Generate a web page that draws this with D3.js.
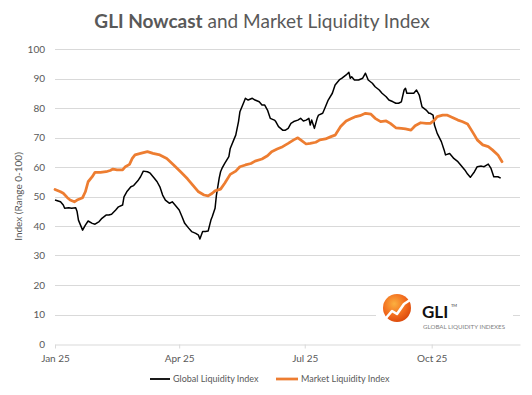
<!DOCTYPE html>
<html>
<head>
<meta charset="utf-8">
<script src="https://cdn.jsdelivr.net/npm/d3@7"></script>
<style>
  html, body { margin: 0; padding: 0; background: #fff; }
  svg { display: block; font-family: Lato, "Open Sans", sans-serif; }
</style>
</head>
<body>
<svg id="chart" width="532" height="395"></svg>
<script>
// ---- Data ----
const gliDates = ["2025-01-01","2025-01-05","2025-01-07","2025-01-08","2025-01-11","2025-01-13","2025-01-16","2025-01-17","2025-01-18","2025-01-21","2025-01-23","2025-01-25","2025-01-28","2025-01-30","2025-02-02","2025-02-04","2025-02-07","2025-02-09","2025-02-11","2025-02-14","2025-02-16","2025-02-19","2025-02-20","2025-02-22","2025-02-25","2025-02-27","2025-03-02","2025-03-04","2025-03-06","2025-03-09","2025-03-11","2025-03-14","2025-03-16","2025-03-18","2025-03-20","2025-03-22","2025-03-25","2025-03-27","2025-03-29","2025-04-01","2025-04-03","2025-04-05","2025-04-08","2025-04-10","2025-04-13","2025-04-15","2025-04-16","2025-04-18","2025-04-20","2025-04-22","2025-04-24","2025-04-25","2025-04-27","2025-04-28","2025-04-30","2025-05-01","2025-05-02","2025-05-04","2025-05-07","2025-05-08","2025-05-11","2025-05-12","2025-05-14","2025-05-15","2025-05-18","2025-05-19","2025-05-21","2025-05-24","2025-05-26","2025-05-29","2025-05-31","2025-06-02","2025-06-04","2025-06-06","2025-06-09","2025-06-10","2025-06-12","2025-06-15","2025-06-17","2025-06-19","2025-06-21","2025-06-23","2025-06-26","2025-06-28","2025-06-30","2025-07-02","2025-07-04","2025-07-05","2025-07-06","2025-07-08","2025-07-10","2025-07-11","2025-07-14","2025-07-16","2025-07-18","2025-07-21","2025-07-23","2025-07-26","2025-07-28","2025-07-31","2025-08-02","2025-08-03","2025-08-04","2025-08-06","2025-08-09","2025-08-12","2025-08-14","2025-08-16","2025-08-19","2025-08-21","2025-08-24","2025-08-26","2025-08-29","2025-08-31","2025-09-03","2025-09-05","2025-09-07","2025-09-09","2025-09-11","2025-09-12","2025-09-13","2025-09-16","2025-09-18","2025-09-20","2025-09-22","2025-09-24","2025-09-27","2025-09-29","2025-09-30","2025-10-02","2025-10-03","2025-10-05","2025-10-08","2025-10-10","2025-10-11","2025-10-14","2025-10-16","2025-10-17","2025-10-20","2025-10-22","2025-10-25","2025-10-27","2025-10-29","2025-11-01","2025-11-03","2025-11-06","2025-11-08","2025-11-11","2025-11-13","2025-11-15","2025-11-18","2025-11-20"];
const gliValues = [48.8,48.2,47.1,46.0,46.2,46.0,46.2,44.9,42.0,38.6,40.3,41.7,40.9,40.6,41.5,42.6,43.7,43.7,44.0,45.4,46.5,47.1,49.9,51.6,53.3,53.7,55.3,56.7,58.6,58.4,57.9,56.2,55.0,53.3,50.5,48.8,47.7,48.2,47.1,45.4,43.2,40.9,39.2,38.1,37.5,36.9,35.6,38.1,38.1,38.3,42.0,43.2,46.0,50.5,56.2,58.4,59.5,61.2,63.5,66.3,69.7,70.8,75.4,78.7,82.1,83.3,82.7,83.3,82.7,82.1,81.0,81.0,79.3,76.5,75.9,75.4,73.7,72.5,72.5,73.1,74.8,75.4,75.9,76.5,75.6,75.9,76.5,74.2,75.9,73.1,76.5,77.6,78.2,80.4,82.7,85.0,87.8,89.5,90.1,91.2,92.1,90.1,90.6,89.5,89.5,90.1,91.8,89.5,88.4,87.2,86.1,85.0,83.8,82.7,82.1,81.6,81.6,82.1,86.1,86.7,85.0,85.0,85.0,86.1,84.4,80.4,79.3,78.2,78.2,77.6,74.2,71.4,68.6,65.8,64.1,64.6,63.5,62.9,61.8,60.7,59.0,57.6,56.5,58.4,60.1,60.3,60.1,61.0,59.5,56.7,56.7,56.2];

const mliDates = ["2025-01-01","2025-01-05","2025-01-07","2025-01-10","2025-01-12","2025-01-15","2025-01-17","2025-01-21","2025-01-23","2025-01-25","2025-01-28","2025-01-30","2025-02-03","2025-02-07","2025-02-10","2025-02-12","2025-02-15","2025-02-19","2025-02-21","2025-02-24","2025-02-26","2025-02-28","2025-03-04","2025-03-09","2025-03-13","2025-03-18","2025-03-23","2025-03-28","2025-04-02","2025-04-07","2025-04-11","2025-04-15","2025-04-19","2025-04-22","2025-04-25","2025-04-27","2025-05-01","2025-05-04","2025-05-08","2025-05-12","2025-05-15","2025-05-19","2025-05-23","2025-05-26","2025-05-31","2025-06-04","2025-06-07","2025-06-11","2025-06-15","2025-06-19","2025-06-23","2025-06-26","2025-06-28","2025-07-02","2025-07-05","2025-07-09","2025-07-12","2025-07-16","2025-07-20","2025-07-23","2025-07-27","2025-07-31","2025-08-03","2025-08-07","2025-08-10","2025-08-14","2025-08-18","2025-08-21","2025-08-25","2025-08-29","2025-09-01","2025-09-05","2025-09-09","2025-09-12","2025-09-16","2025-09-19","2025-09-23","2025-09-27","2025-09-30","2025-10-03","2025-10-05","2025-10-09","2025-10-12","2025-10-16","2025-10-20","2025-10-23","2025-10-27","2025-10-29","2025-11-01","2025-11-03","2025-11-07","2025-11-11","2025-11-14","2025-11-18","2025-11-21"];
const mliValues = [52.4,51.6,51.1,49.6,48.8,48.2,48.8,49.6,51.6,55.0,56.7,58.2,58.2,58.4,58.8,59.3,59.0,59.0,60.1,60.9,62.9,64.1,64.6,65.2,64.6,64.1,62.9,60.7,58.4,56.0,53.8,51.6,50.5,50.2,51.1,51.9,52.5,54.5,57.5,58.6,60.1,60.7,61.2,62.0,62.7,63.8,65.2,66.1,66.9,68.0,69.2,69.9,69.2,67.8,68.0,68.4,69.2,69.5,70.3,70.8,73.7,75.6,76.3,77.1,77.4,78.2,77.9,76.5,75.4,75.6,74.8,73.3,73.1,72.9,72.5,74.0,75.0,74.8,74.8,75.9,77.1,77.6,77.6,76.8,75.9,75.4,74.6,73.1,70.8,69.2,67.5,66.9,65.8,64.1,61.8];

const yTicks = [0,10,20,30,40,50,60,70,80,90,100];
const xTickDates = ["2025-01-01","2025-04-01","2025-07-01","2025-10-01"];
const xDomain = ["2025-01-01","2025-12-04"];
const seriesNames = ["Global Liquidity Index","Market Liquidity Index"];
const seriesColors = ["#000000","#ED7D31"];

// ---- Drawing ----
const parse = d3.utcParse("%Y-%m-%d");
const svg = d3.select("#chart");
const textColor = "#595959";
const gridColor = "#d9d9d9";

const x = d3.scaleUtc().domain(xDomain.map(parse)).range([55, 520]);
const y = d3.scaleLinear().domain([0, 100]).range([344, 49]);

// Title
const title = svg.append("text")
  .attr("x", 262).attr("y", 28)
  .attr("text-anchor", "middle")
  .attr("fill", textColor)
  .style("font-size", "19px");
title.append("tspan").style("font-weight", "700").text("GLI Nowcast");
title.append("tspan").text(" and Market Liquidity Index");

// Gridlines
svg.append("g").selectAll("line").data(yTicks.filter(d => d > 0)).join("line")
  .attr("x1", x.range()[0]).attr("x2", x.range()[1])
  .attr("y1", d => Math.round(y(d)) + 0.5).attr("y2", d => Math.round(y(d)) + 0.5)
  .attr("stroke", gridColor).attr("stroke-width", 1);

// Y axis labels
const yAxis = d3.axisLeft(y).tickValues(yTicks).tickSize(0).tickPadding(10);
const gy = svg.append("g").attr("transform", `translate(${x.range()[0]},0)`).call(yAxis);
gy.select(".domain").remove();
gy.selectAll("text").attr("fill", textColor).style("font-size", "10px").style("font-family", "Lato, sans-serif");

// Y axis title
svg.append("text")
  .attr("transform", `translate(22,${y(50)}) rotate(-90)`)
  .attr("text-anchor", "middle")
  .attr("fill", textColor)
  .style("font-size", "10px")
  .text("Index (Range 0-100)");

// X axis
const xAxis = d3.axisBottom(x).tickValues(xTickDates.map(parse))
  .tickFormat(d3.utcFormat("%b %y")).tickSize(4).tickSizeOuter(0).tickPadding(6);
const gx = svg.append("g").attr("transform", `translate(0,${Math.round(y(0)) + 0.5})`).call(xAxis);
gx.select(".domain").attr("stroke", gridColor);
gx.selectAll(".tick line").attr("stroke", gridColor);
gx.selectAll("text").attr("fill", textColor).style("font-size", "10px").style("font-family", "Lato, sans-serif");

// Logo (white box behind)
const logo = svg.append("g");
logo.append("rect").attr("x", 376).attr("y", 290).attr("width", 137).attr("height", 48).attr("fill", "#fff");
const defs = svg.append("defs");
const grad = defs.append("radialGradient").attr("id", "lg").attr("cx", "40%").attr("cy", "35%").attr("r", "70%");
grad.append("stop").attr("offset", "0%").attr("stop-color", "#FBB040");
grad.append("stop").attr("offset", "60%").attr("stop-color", "#F26B1D");
grad.append("stop").attr("offset", "100%").attr("stop-color", "#D9470B");
logo.append("circle").attr("cx", 397).attr("cy", 308).attr("r", 14).attr("fill", "url(#lg)");
logo.append("path")
  .attr("d", "M386,318 L392,311 L397,314 L404,304 L410,300")
  .attr("fill", "none").attr("stroke", "#fff").attr("stroke-width", 2.6)
  .attr("stroke-linejoin", "round").attr("stroke-linecap", "round");
logo.append("text").attr("x", 422).attr("y", 318)
  .attr("fill", "#111").style("font-size", "17px").style("font-weight", "700")
  .style("font-family", "Lato, sans-serif").text("GLI");
logo.append("text").attr("x", 451).attr("y", 307)
  .attr("fill", "#333").style("font-size", "4px").text("TM");
logo.append("text").attr("x", 423).attr("y", 329)
  .attr("fill", "#7f7f7f").style("font-size", "5.6px")
  .attr("textLength", 82).attr("lengthAdjust", "spacingAndGlyphs")
  .text("GLOBAL LIQUIDITY INDEXES");

// Lines
const line = d3.line().x(d => x(d[0])).y(d => y(d[1])).curve(d3.curveLinear);
const gliData = gliDates.map((d, i) => [parse(d), gliValues[i]]);
const mliData = mliDates.map((d, i) => [parse(d), mliValues[i]]);

svg.append("path").datum(gliData)
  .attr("d", line).attr("fill", "none")
  .attr("stroke", seriesColors[0]).attr("stroke-width", 1.5)
  .attr("stroke-linejoin", "round");
svg.append("path").datum(mliData)
  .attr("d", line).attr("fill", "none")
  .attr("stroke", seriesColors[1]).attr("stroke-width", 2.75)
  .attr("stroke-linejoin", "round").attr("stroke-linecap", "round");

// Legend
const legend = svg.append("g");
const legItems = [{x: 150, w: 20}, {x: 276, w: 22}];
seriesNames.forEach((name, i) => {
  legend.append("line")
    .attr("x1", legItems[i].x).attr("x2", legItems[i].x + legItems[i].w)
    .attr("y1", 379).attr("y2", 379)
    .attr("stroke", seriesColors[i]).attr("stroke-width", i === 0 ? 1.8 : 2.75);
  legend.append("text")
    .attr("x", legItems[i].x + legItems[i].w + 3).attr("y", 382)
    .attr("fill", textColor).style("font-size", "9px")
    .text(name);
});
</script>
</body>
</html>
